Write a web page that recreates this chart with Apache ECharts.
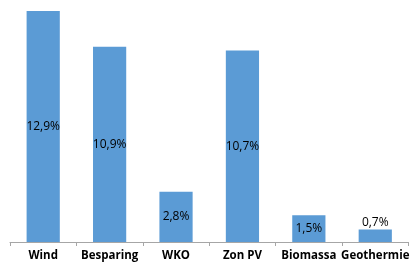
<!DOCTYPE html>
<html>
<head>
<meta charset="utf-8">
<script src="https://cdn.jsdelivr.net/npm/echarts@6/dist/echarts.min.js"></script>
<style>
html, body { margin: 0; padding: 0; background: #fff; }
#main { width: 412px; height: 263px; }
</style>
</head>
<body>
<div id="main"></div>
<script>
// categorieen en aandelen (%)
var categories = ['Wind', 'Besparing', 'WKO', 'Zon PV', 'Biomassa', 'Geothermie'];
var shares = [12.9, 10.9, 2.8, 10.7, 1.5, 0.7];

var myChart = echarts.init(document.getElementById('main'));

function pct(v) {
	return String(v.toFixed(1)).replace('.', ',') + '%';
}

var seriesData = shares.map(function (v) {
	var item = { value: v };
	if (v < 1) {
		item.label = { position: 'top', distance: 1 };
	}
	return item;
});

var option = {
	animation: false,
	grid: {
		top: 11,
		left: 10,
		right: -2,
		bottom: 21
	},
	xAxis: {
		type: 'category',
		data: categories,
		axisLine: {
			show: true,
			lineStyle: { color: '#a6a6a6', width: 1 }
		},
		axisTick: {
			show: true,
			length: 4,
			lineStyle: { color: '#a6a6a6' }
		},
		axisLabel: {
			interval: 0,
			margin: 8,
			color: '#000',
			fontWeight: 'bold',
			fontSize: 11.5,
			fontFamily: 'Open Sans'
		}
	},
	yAxis: {
		type: 'value',
		min: 0,
		max: 12.9,
		show: false,
		splitLine: { show: false }
	},
	series: [{
		type: 'bar',
		data: seriesData,
		barWidth: '50%',
		itemStyle: { color: '#5b9bd5' },
		label: {
			show: true,
			position: 'inside',
			color: '#000',
			fontSize: 12,
			fontFamily: 'Open Sans',
			formatter: function (p) { return pct(p.value); }
		}
	}]
};

myChart.setOption(option);
window.onresize = myChart.resize;
</script>
</body>
</html>
